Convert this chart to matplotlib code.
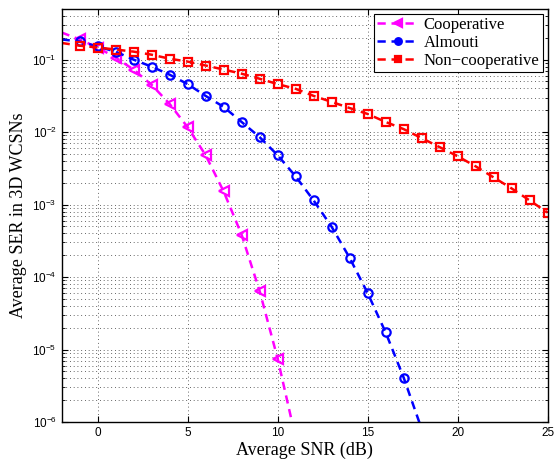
import numpy as np
import matplotlib
matplotlib.use("Agg")
import matplotlib.pyplot as plt
from matplotlib.ticker import LogLocator, NullFormatter

# SNR values (dB); first point (-2) only draws the line, markers start at -1
snr = [-2, -1, 0, 1, 2, 3, 4, 5, 6, 7, 8, 9, 10, 11, 12, 13, 14, 15, 16, 17,
       18, 19, 20, 21, 22, 23, 24, 25]

ser_coop = [0.237, 0.19, 0.147, 0.107, 0.0727, 0.045, 0.0245, 0.0117, 0.0048,
            0.00152, 0.000383, 0.000064, 0.0000075, 6.0e-7]
ser_alamouti = [0.19, 0.178, 0.152, 0.129, 0.100, 0.080, 0.062, 0.046, 0.0316,
                0.0223, 0.0138, 0.00853, 0.0048, 0.00245, 0.00114, 0.000494,
                0.000184, 0.00006, 0.0000172, 0.0000041, 8.0e-7]
ser_noncoop = [0.17, 0.156, 0.147, 0.138, 0.129, 0.117, 0.103, 0.094, 0.083,
               0.073, 0.064, 0.0545, 0.046, 0.0396, 0.0316, 0.0261, 0.0215,
               0.0178, 0.0138, 0.0110, 0.00826, 0.0062, 0.00464, 0.00337,
               0.00237, 0.00167, 0.00114, 0.000775]

series = [
    ("Cooperative", ser_coop, "#ff00ff", "<", 7),
    ("Almouti", ser_alamouti, "#0000ff", "o", 6),
    ("Non\u2212cooperative", ser_noncoop, "#ff0000", "s", 5.5),
]

fig = plt.figure(figsize=(5.6, 4.61), dpi=100)
ax = fig.add_axes([0.110, 0.0846, 0.868, 0.8959])

for label, vals, color, mk, ms in series:
    ax.plot(snr[:len(vals)], vals, color=color, ls="--", lw=1.8,
            dashes=(3.3, 2.3), marker=mk, ms=ms, mfc="none", mec=color,
            mew=1.6, markevery=range(1, len(vals)), label=label)

ax.set_yscale("log")
ax.set_xlim(-2, 25)
ax.set_ylim(1e-6, 0.5)
ax.set_xticks([0, 5, 10, 15, 20, 25])
ax.yaxis.set_major_locator(LogLocator(base=10, numticks=10))
ax.yaxis.set_minor_locator(LogLocator(base=10, subs=np.arange(2, 10), numticks=20))
ax.yaxis.set_minor_formatter(NullFormatter())

grid_ls = (0, (1, 3.5))
ax.grid(True, which="major", ls=grid_ls, color="#333333", lw=0.6)
ax.grid(True, which="minor", axis="y", ls=grid_ls, color="#333333", lw=0.6)

ax.tick_params(which="both", direction="in", top=True, right=True,
               labelsize=8.5)
ax.tick_params(which="major", length=4)
ax.tick_params(which="minor", length=2)
for lab in ax.get_xticklabels() + ax.get_yticklabels():
    lab.set_fontfamily("Liberation Sans")
for sp in ax.spines.values():
    sp.set_linewidth(1.0)

ax.set_xlabel("Average SNR (dB)", fontfamily="Liberation Serif", fontsize=13,
              labelpad=2)
ax.set_ylabel("Average SER in 3D WCSNs", fontfamily="Liberation Serif",
              fontsize=13, labelpad=4)

leg = ax.legend(loc="upper right", prop={"family": "Liberation Serif", "size": 12},
                fancybox=False, framealpha=1, edgecolor="black",
                borderpad=0.2, labelspacing=0.1, handlelength=2.5,
                handletextpad=0.3, borderaxespad=0.3, markerscale=0.8)
leg.get_frame().set_linewidth(0.8)
for h in leg.legend_handles:
    h.set_markerfacecolor(h.get_color())

fig.savefig("out.png", dpi=100)
